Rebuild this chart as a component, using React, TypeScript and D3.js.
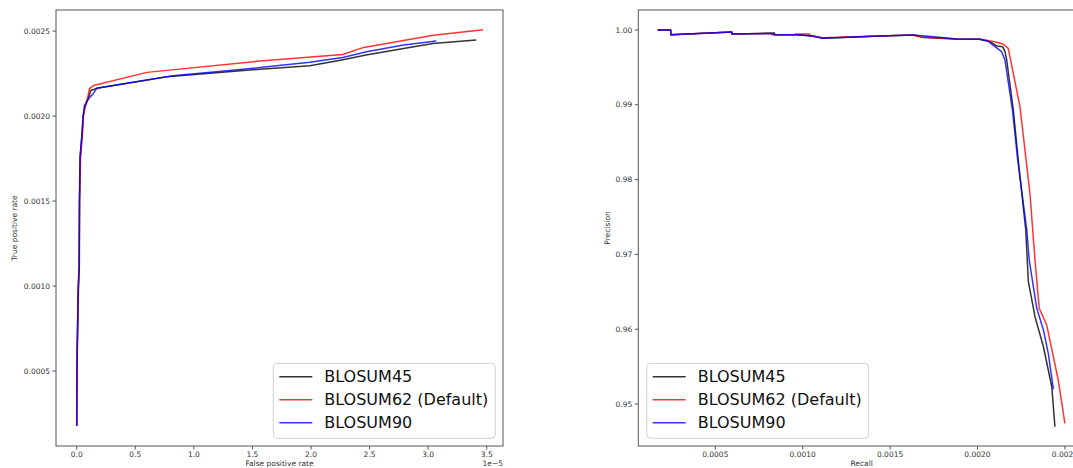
import React from "react";
import * as d3 from "d3";

// ROC data (FPR in units of 1e-5)
const roc45X = [0, 0, 0.003, 0.012, 0.02, 0.024, 0.03, 0.045, 0.055, 0.07, 0.1, 0.12, 0.17, 0.77, 1.565, 1.99, 2.25, 2.47, 2.79, 3.04, 3.41];
const roc45Y = [0.000176, 0.00025, 0.0006, 0.00098, 0.00112, 0.0015, 0.00176, 0.0019, 0.002, 0.00205, 0.00211, 0.00215, 0.002163, 0.002231, 0.002276, 0.002296, 0.002329, 0.002359, 0.002398, 0.002427, 0.002447];
const roc62X = [0, 0, 0.005, 0.015, 0.022, 0.024, 0.033, 0.05, 0.057, 0.07, 0.094, 0.108, 0.142, 0.6, 1.565, 2.27, 2.45, 3.045, 3.47];
const roc62Y = [0.000176, 0.00026, 0.0006, 0.00098, 0.00112, 0.0015, 0.00176, 0.0019, 0.002, 0.00206, 0.00211, 0.00216, 0.00218, 0.002257, 0.002324, 0.002362, 0.002404, 0.002476, 0.002508];
const roc90X = [0, 0, 0.003, 0.013, 0.022, 0.023, 0.028, 0.046, 0.055, 0.065, 0.11, 0.142, 0.171, 0.8, 1.565, 1.99, 2.27, 2.475, 2.79, 3.07];
const roc90Y = [0.00018, 0.00026, 0.0006, 0.00098, 0.00112, 0.0015, 0.00176, 0.0019, 0.002, 0.00206, 0.00211, 0.002133, 0.002163, 0.002235, 0.002285, 0.002316, 0.002345, 0.002378, 0.002418, 0.002441];

// PR data
const pr45R = [0.00017, 0.000245, 0.000245, 0.000594, 0.000594, 0.000838, 0.000838, 0.000966, 0.00106, 0.001114, 0.001442, 0.001633, 0.00169, 0.00188, 0.002014, 0.002071, 0.00211, 0.002144, 0.002157, 0.002167, 0.002205, 0.002233, 0.002276, 0.002291, 0.002329, 0.002377, 0.002425, 0.002443];
const pr45P = [1.0, 1.0, 0.99937, 0.99973, 0.99947, 0.99956, 0.99937, 0.99937, 0.9992, 0.99889, 0.9992, 0.99933, 0.99898, 0.9988, 0.99876, 0.99844, 0.99786, 0.99777, 0.9971, 0.99599, 0.9893, 0.98262, 0.97326, 0.96635, 0.96167, 0.95766, 0.95231, 0.94697];
const pr62R = [0.00017, 0.000245, 0.000245, 0.000594, 0.000594, 0.000823, 0.000823, 0.00096, 0.00096, 0.00104, 0.00104, 0.001114, 0.001442, 0.001633, 0.00168, 0.00188, 0.00201, 0.00206, 0.00211, 0.002148, 0.002176, 0.002243, 0.0023, 0.002329, 0.002353, 0.002396, 0.002462, 0.0025];
const pr62P = [1.0, 1.0, 0.99937, 0.99973, 0.99947, 0.99956, 0.99937, 0.99937, 0.99945, 0.99945, 0.9992, 0.99895, 0.9992, 0.99933, 0.99905, 0.9988, 0.99876, 0.9986, 0.99835, 0.99809, 0.99755, 0.98975, 0.97817, 0.96925, 0.9628, 0.96056, 0.95321, 0.94742];
const pr90R = [0.00017, 0.000245, 0.000245, 0.000594, 0.000594, 0.000838, 0.000838, 0.000966, 0.00106, 0.001114, 0.001442, 0.001633, 0.00175, 0.00188, 0.002014, 0.00206, 0.0021, 0.002138, 0.002157, 0.0022, 0.00223, 0.002282, 0.002296, 0.002339, 0.002377, 0.002405, 0.002434];
const pr90P = [1.0, 1.0, 0.99937, 0.99973, 0.99947, 0.99956, 0.99937, 0.99937, 0.9992, 0.99889, 0.9992, 0.99933, 0.9991, 0.9988, 0.99876, 0.9985, 0.99777, 0.9971, 0.99599, 0.9893, 0.98262, 0.97326, 0.96925, 0.9628, 0.9599, 0.95678, 0.95197];

const seriesNames = ["BLOSUM45", "BLOSUM62 (Default)", "BLOSUM90"];
const seriesColors = ["#000000", "#ff0000", "#0000ff"];

const rocTicksX = [0, 0.5, 1.0, 1.5, 2.0, 2.5, 3.0, 3.5];
const rocTicksY = [0.0005, 0.001, 0.0015, 0.002, 0.0025];
const prTicksX = [0.0005, 0.001, 0.0015, 0.002, 0.0025];
const prTicksY = [0.95, 0.96, 0.97, 0.98, 0.99, 1.0];

const FONT = "DejaVu Sans, sans-serif";
const AX = "#555";
const TXT = "#333";
const TICK_FS = 7.5;

function zip(xs: number[], ys: number[]): [number, number][] {
  return xs.map((x, i) => [x, ys[i]]);
}

function Legend({ x, y }: { x: number; y: number }) {
  const w = 222;
  const h = 75;
  return (
    <g transform={`translate(${x},${y})`}>
      <rect x={0} y={0} width={w} height={h} rx={4} fill="white" fillOpacity={0.8} stroke="#d0d0d0" />
      {seriesNames.map((n, i) => (
        <g key={n} transform={`translate(0,${13.5 + i * 23})`}>
          <line x1={6} x2={39} y1={0} y2={0} stroke={seriesColors[i]} strokeOpacity={0.8} strokeWidth={1.5} />
          <text x={51} y={0} dy="0.35em" fontSize={16} fontFamily={FONT} fill="#111">{n}</text>
        </g>
      ))}
    </g>
  );
}

export default function App() {
  const L = { x0: 56, x1: 503, y0: 10, y1: 446 };
  const R = { x0: 638.3, x1: 1085, y0: 10, y1: 446 };

  const lx = d3.scaleLinear().domain([-0.177, 3.639]).range([L.x0, L.x1]);
  const ly = d3.scaleLinear().domain([0.0000588, 0.002624]).range([L.y1, L.y0]);
  const rx = d3.scaleLinear().domain([0.0000595, 0.002615]).range([R.x0, R.x1]);
  const ry = d3.scaleLinear().domain([0.94439, 1.00267]).range([R.y1, R.y0]);

  const lline = d3.line<[number, number]>().x((d) => lx(d[0])).y((d) => ly(d[1]));
  const rline = d3.line<[number, number]>().x((d) => rx(d[0])).y((d) => ry(d[1]));

  const rocSeries = [zip(roc45X, roc45Y), zip(roc62X, roc62Y), zip(roc90X, roc90Y)];
  const prSeries = [zip(pr45R, pr45P), zip(pr62R, pr62P), zip(pr90R, pr90P)];

  return (
    <svg width={1073} height={468} style={{ position: "absolute", left: 0, top: 0, background: "white" }}>
      <defs>
        <clipPath id="clipL"><rect x={L.x0} y={L.y0} width={L.x1 - L.x0} height={L.y1 - L.y0} /></clipPath>
        <clipPath id="clipR"><rect x={R.x0} y={R.y0} width={R.x1 - R.x0} height={R.y1 - R.y0} /></clipPath>
      </defs>
      <rect x={0} y={0} width={1073} height={468} fill="white" />

      {/* Left ROC */}
      <g clipPath="url(#clipL)">
        {rocSeries.map((s, i) => (
          <path key={i} d={lline(s) || ""} fill="none" stroke={seriesColors[i]} strokeOpacity={0.8} strokeWidth={1.5} strokeLinejoin="round" />
        ))}
      </g>
      <rect x={L.x0} y={L.y0} width={L.x1 - L.x0} height={L.y1 - L.y0} fill="none" stroke={AX} strokeWidth={1} />
      {rocTicksX.map((t) => (
        <g key={t}>
          <line x1={lx(t)} x2={lx(t)} y1={L.y1} y2={L.y1 + 3.5} stroke={AX} />
          <text x={lx(t)} y={L.y1 + 8} dy="0.35em" textAnchor="middle" fontSize={TICK_FS} fontFamily={FONT} fill={TXT}>{t.toFixed(1)}</text>
        </g>
      ))}
      {rocTicksY.map((t) => (
        <g key={t}>
          <line x1={L.x0 - 3.5} x2={L.x0} y1={ly(t)} y2={ly(t)} stroke={AX} />
          <text x={L.x0 - 6} y={ly(t)} dy="0.35em" textAnchor="end" fontSize={TICK_FS} fontFamily={FONT} fill={TXT}>{t.toFixed(4)}</text>
        </g>
      ))}
      <text x={(L.x0 + L.x1) / 2} y={463} dy="0.35em" textAnchor="middle" fontSize={TICK_FS} fontFamily={FONT} fill={TXT}>False positive rate</text>
      <text x={L.x1} y={463} dy="0.35em" textAnchor="end" fontSize={TICK_FS} fontFamily={FONT} fill={TXT}>1e−5</text>
      <text transform={`translate(14,${(L.y0 + L.y1) / 2}) rotate(-90)`} dy="0.35em" textAnchor="middle" fontSize={TICK_FS} fontFamily={FONT} fill={TXT}>True positive rate</text>
      <Legend x={273.3} y={363.3} />

      {/* Right PR */}
      <g clipPath="url(#clipR)">
        {prSeries.map((s, i) => (
          <path key={i} d={rline(s) || ""} fill="none" stroke={seriesColors[i]} strokeOpacity={0.8} strokeWidth={1.5} strokeLinejoin="round" />
        ))}
      </g>
      <rect x={R.x0} y={R.y0} width={R.x1 - R.x0} height={R.y1 - R.y0} fill="none" stroke={AX} strokeWidth={1} />
      {prTicksX.map((t) => (
        <g key={t}>
          <line x1={rx(t)} x2={rx(t)} y1={R.y1} y2={R.y1 + 3.5} stroke={AX} />
          <text x={rx(t)} y={R.y1 + 8} dy="0.35em" textAnchor="middle" fontSize={TICK_FS} fontFamily={FONT} fill={TXT}>{t.toFixed(4)}</text>
        </g>
      ))}
      {prTicksY.map((t) => (
        <g key={t}>
          <line x1={R.x0 - 3.5} x2={R.x0} y1={ry(t)} y2={ry(t)} stroke={AX} />
          <text x={R.x0 - 6} y={ry(t)} dy="0.35em" textAnchor="end" fontSize={TICK_FS} fontFamily={FONT} fill={TXT}>{t.toFixed(2)}</text>
        </g>
      ))}
      <text x={(R.x0 + R.x1) / 2} y={463} dy="0.35em" textAnchor="middle" fontSize={TICK_FS} fontFamily={FONT} fill={TXT}>Recall</text>
      <text transform={`translate(607,${(R.y0 + R.y1) / 2}) rotate(-90)`} dy="0.35em" textAnchor="middle" fontSize={TICK_FS} fontFamily={FONT} fill={TXT}>Precision</text>
      <Legend x={646.7} y={363.3} />
    </svg>
  );
}
